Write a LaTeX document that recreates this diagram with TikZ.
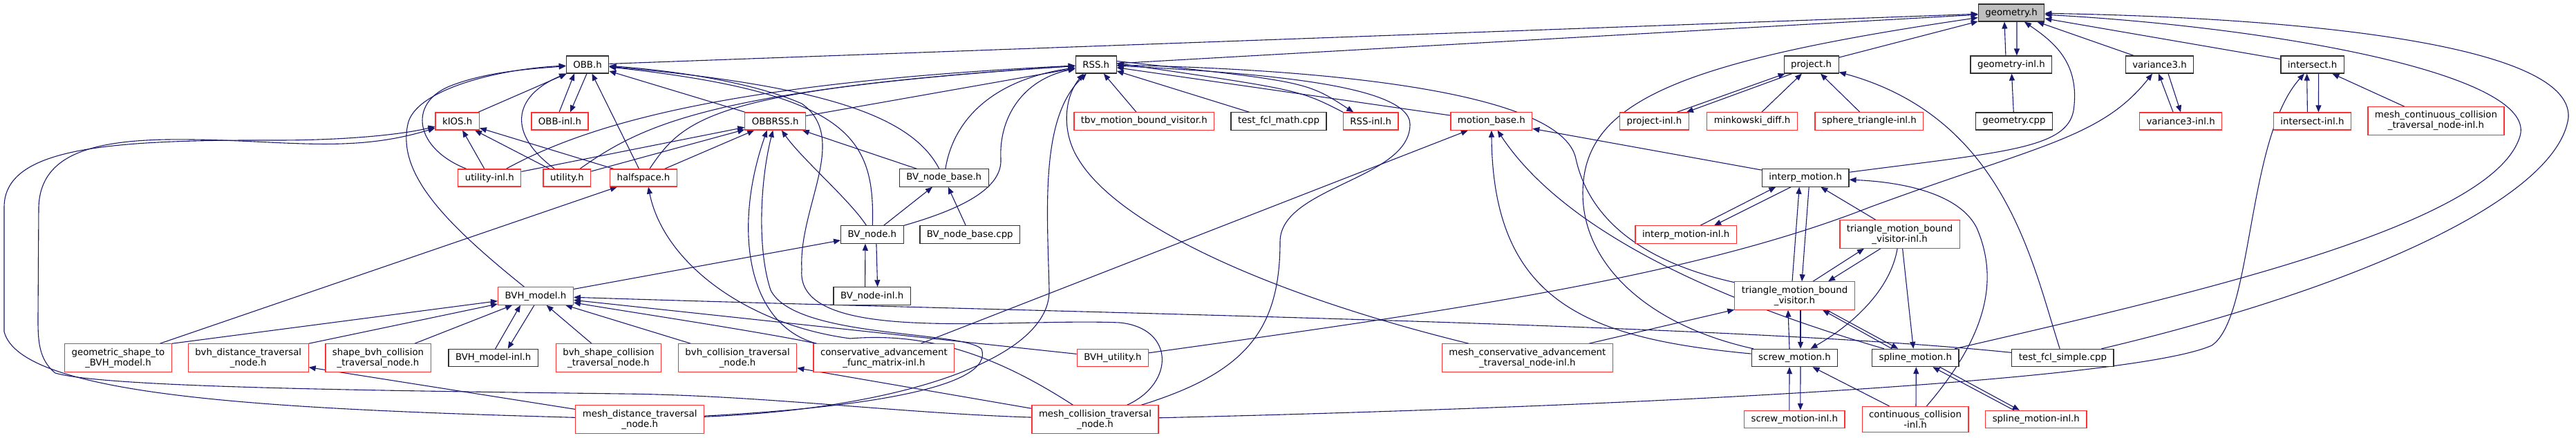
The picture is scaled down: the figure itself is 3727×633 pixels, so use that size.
\documentclass[tikz,border=0pt]{standalone}
\usepackage{fontspec}
\newfontfamily\dvs{DejaVu Sans}
\usetikzlibrary{arrows.meta}
\definecolor{edgec}{HTML}{191970}
\definecolor{redc}{HTML}{FF3030}
\definecolor{blkc}{HTML}{303030}
\definecolor{greyc}{HTML}{BFBFBF}
\pgfdeclarelayer{bg}
\pgfsetlayers{bg,main}
\begin{document}
\begin{tikzpicture}[x=1pt,y=-1pt,
  nb/.style={draw=blkc, line width=1.2pt, fill=white, inner xsep=10pt, inner ysep=6pt, minimum height=25pt, align=center, font=\dvs\fontsize{13.33}{15}\selectfont},
  nr/.style={nb, draw=redc},
  ng/.style={nb, fill=greyc},
  edg/.style={draw=edgec, line width=1.1pt, -{Triangle[length=10pt,width=8pt]}}]
\useasboundingbox (0,0) rectangle (3727,633);

% ---------------- nodes ----------------
\node[ng] (geo) at (2910,18.5) {geometry.h};
\node[nb] (OBB) at (850,93.5) {OBB.h};
\node[nb] (RSS) at (1585.7,93.5) {RSS.h};
\node[nb] (project) at (2620.6,93.5) {project.h};
\node[nb] (geoinl) at (2909.9,93.5) {geometry-inl.h};
\node[nb] (var3) at (3124.5,93.5) {variance3.h};
\node[nb] (inter) at (3345.6,93.5) {intersect.h};
\node[nr] (kIOS) at (661.7,175.5) {kIOS.h};
\node[nr] (OBBinl) at (810,175.5) {OBB-inl.h};
\node[nr] (OBBRSS) at (1121.7,175.5) {OBBRSS.h};
\node[nr] (tbv) at (1655.3,175.5) {tbv\_motion\_bound\_visitor.h};
\node[nb] (tfm) at (1850,175.5) {test\_fcl\_math.cpp};
\node[nr] (RSSinl) at (1983.2,175.5) {RSS-inl.h};
\node[nr] (mbase) at (2157.8,175.5) {motion\_base.h};
\node[nr] (projinl) at (2393.5,175.5) {project-inl.h};
\node[nr] (mink) at (2535,175.5) {minkowski\_diff.h};
\node[nr] (sphtri) at (2704.4,175.5) {sphere\_triangle-inl.h};
\node[nb] (geocpp) at (2913.9,175.5) {geometry.cpp};
\node[nr] (var3inl) at (3155.1,175.5) {variance3-inl.h};
\node[nr] (interinl) at (3345.4,175.5) {intersect-inl.h};
\node[nr] (mcctn) at (3524.4,175) {mesh\_continuous\_collision\\\_traversal\_node-inl.h};
\node[nr] (utilinl) at (708.3,257.5) {utility-inl.h};
\node[nr] (util) at (820.4,257.5) {utility.h};
\node[nr] (half) at (931,257.5) {halfspace.h};
\node[nb] (bvnb) at (1365.7,257.5) {BV\_node\_base.h};
\node[nb] (interp) at (2612.2,257.5) {interp\_motion.h};
\node[nb] (bvnode) at (1261.9,339.5) {BV\_node.h};
\node[nb] (bvnbcpp) at (1403.3,339.5) {BV\_node\_base.cpp};
\node[nr] (interpinl) at (2439.1,339.5) {interp\_motion-inl.h};
\node[nr] (tmbvinl) at (2748.6,339) {triangle\_motion\_bound\\\_visitor-inl.h};
\node[nr] (bvh) at (775,428.5) {BVH\_model.h};
\node[nb] (bvninl) at (1261.6,428.5) {BV\_node-inl.h};
\node[nr] (tmbv) at (2596.5,428) {triangle\_motion\_bound\\\_visitor.h};
\node[nr] (gstb) at (171,518) {geometric\_shape\_to\\\_BVH\_model.h};
\node[nr] (bdtn) at (359.2,518) {bvh\_distance\_traversal\\\_node.h};
\node[nr] (sbctn) at (547,518) {shape\_bvh\_collision\\\_traversal\_node.h};
\node[nb] (bvhinl) at (713.7,518) {BVH\_model-inl.h};
\node[nr] (bsctn) at (880.4,518) {bvh\_shape\_collision\\\_traversal\_node.h};
\node[nr] (bctn) at (1067.1,518) {bvh\_collision\_traversal\\\_node.h};
\node[nr] (cafm) at (1278.9,518) {conservative\_advancement\\\_func\_matrix-inl.h};
\node[nr] (bvhutil) at (1609.9,518) {BVH\_utility.h};
\node[nr] (mcatn) at (2209.8,518) {mesh\_conservative\_advancement\\\_traversal\_node-inl.h};
\node[nb] (screw) at (2596.5,518) {screw\_motion.h};
\node[nb] (spline) at (2771.3,518) {spline\_motion.h};
\node[nb] (tfs) at (2984.4,518) {test\_fcl\_simple.cpp};
\node[nr] (mdtn) at (925.7,607) {mesh\_distance\_traversal\\\_node.h};
\node[nr] (mctn) at (1584.5,607) {mesh\_collision\_traversal\\\_node.h};
\node[nr] (screwinl) at (2596.3,607) {screw\_motion-inl.h};
\node[nr] (cci) at (2771,607) {continuous\_collision\\-inl.h};
\node[nr] (splineinl) at (2945.8,607) {spline\_motion-inl.h};

% ---------------- edges ----------------
\begin{pgfonlayer}{bg}
% geometry.h
\draw[edg] (OBB) -- (geo);
\draw[edg] (RSS) -- (geo);
\draw[edg] (project) -- (geo);
\draw[edg] ([xshift=-8pt]geoinl.north) -- ([xshift=-10pt]geo.south);
\draw[edg] ([xshift=8pt]geo.south) -- ([xshift=8pt]geoinl.north);
\draw[edg] (interp) .. controls (2900,220) and (2990,215) .. (3000,160) .. controls (3010,90) and (2970,60) .. (geo);
\draw[edg] (screw) .. controls (2380,470) and (2290,380) .. (2290,280) .. controls (2290,150) and (2420,90) .. (geo);
\draw[edg] (spline) .. controls (3150,430) and (3600,330) .. (3645,200) .. controls (3680,110) and (3300,40) .. (geo);
\draw[edg] (tfs) .. controls (3400,420) and (3700,290) .. (3716,170) .. controls (3722,60) and (3300,25) .. (geo);
\draw[edg] (var3) -- (geo);
\draw[edg] (inter) -- (geo);
\draw[edg] (geocpp) -- (geoinl);
% project.h
\draw[edg] ([xshift=-18pt]projinl.north east) -- ([xshift=-38pt]project.south);
\draw[edg] ([xshift=-28pt]project.south) -- ([xshift=-4pt]projinl.north east);
\draw[edg] (mink) -- (project);
\draw[edg] (sphtri) -- (project);
\draw[edg] (tfs) .. controls (2940,380) and (2900,170) .. (project);
% variance3.h
\draw[edg] ([xshift=-11pt]var3inl.north) -- ([xshift=-1.5pt]var3.south);
\draw[edg] ([xshift=12.5pt]var3.south) -- (var3inl.north);
\draw[edg] (bvhutil) .. controls (2100,450) and (2450,400) .. (2705,300) .. controls (2950,210) and (3040,200) .. (var3);
% intersect.h
\draw[edg] ([xshift=-7pt]interinl.north) -- ([xshift=-8pt]inter.south);
\draw[edg] ([xshift=9pt]inter.south) -- ([xshift=9pt]interinl.north);
\draw[edg] (mcctn) -- (inter);
\draw[edg] (mctn) .. controls (2500,585) and (3100,545) .. (3200,500) .. controls (3260,460) and (3250,200) .. (inter);
% OBB.h
\draw[edg] ([xshift=-1pt]OBBinl.north) -- ([xshift=-19pt]OBB.south);
\draw[edg] ([xshift=-1pt]OBB.south) -- ([xshift=15pt]OBBinl.north);
\draw[edg] (kIOS) -- (OBB);
\draw[edg] (utilinl) .. controls (600,215) and (590,150) .. (650,125) .. controls (700,105) and (760,100) .. (OBB);
\draw[edg] (util) .. controls (735,195) and (740,140) .. (OBB);
\draw[edg] (half) -- (OBB);
\draw[edg] (OBBRSS) -- (OBB);
\draw[edg] (bvh) .. controls (640,320) and (575,250) .. (590,180) .. controls (600,130) and (720,100) .. (OBB);
\draw[edg] (bvnb) .. controls (1320,170) and (1200,125) .. (OBB);
\draw[edg] (bvnode) .. controls (1266,200) and (1230,135) .. (OBB);
\draw[edg] (mctn) .. controls (1700,555) and (1700,475) .. (1620,467) .. controls (1450,460) and (1150,500) .. (1160,390) .. controls (1155,300) and (1230,200) .. (1160,150) .. controls (1080,115) and (950,100) .. (OBB);
% kIOS.h
\draw[edg] (utilinl) -- (kIOS);
\draw[edg] (util) -- (kIOS);
\draw[edg] (half) -- (kIOS);
\draw[edg] (mdtn) .. controls (400,592) and (30,575) .. (6,480) -- (6,300) .. controls (6,215) and (150,202) .. (400,203) .. controls (500,203) and (580,195) .. (kIOS);
\draw[edg] (mctn) .. controls (1300,598) and (1100,572) .. (900,570) .. controls (500,565) and (150,560) .. (80,540) .. controls (55,520) and (55,490) .. (55,460) -- (56,300) .. controls (58,230) and (120,204) .. (241,202) .. controls (400,200) and (500,225) .. (kIOS);
% OBBRSS.h
\draw[edg] (utilinl) -- (OBBRSS);
\draw[edg] (util) -- (OBBRSS);
\draw[edg] (half) -- (OBBRSS);
\draw[edg] (bvnode) .. controls (1230,290) and (1160,230) .. (OBBRSS);
\draw[edg] (bvnb) -- (OBBRSS);
\draw[edg] ([xshift=5pt]cafm.north west) .. controls (1080,470) and (1060,330) .. ([xshift=-12pt]OBBRSS.south);
\draw[edg] (mdtn) .. controls (1250,590) and (1440,560) .. (1420,505) .. controls (1390,478) and (1150,490) .. (1115,420) .. controls (1095,360) and (1100,260) .. (OBBRSS);
% RSS.h
\draw[edg] (OBBRSS) -- (RSS);
\draw[edg] (utilinl) .. controls (850,180) and (1050,120) .. (RSS);
\draw[edg] (util) .. controls (930,180) and (1030,130) .. (RSS);
\draw[edg] (half) .. controls (990,170) and (1030,130) .. (RSS);
\draw[edg] (bvnb) .. controls (1380,170) and (1440,115) .. (RSS);
\draw[edg] (bvnode) .. controls (1400,300) and (1450,270) .. (1448,230) .. controls (1445,170) and (1480,115) .. (RSS);
\draw[edg] (mdtn) .. controls (1300,592) and (1520,520) .. (1518,420) .. controls (1515,300) and (1505,170) .. (RSS);
\draw[edg] (mcatn) .. controls (1850,430) and (1620,330) .. (1560,230) .. controls (1535,190) and (1540,140) .. ([xshift=-18pt]RSS.south);
\draw[edg] ([xshift=-40pt]RSSinl.north) .. controls (1880,130) .. ([yshift=2pt]RSS.east);
\draw[edg] ([yshift=5pt]RSS.east) .. controls (1890,118) .. ([xshift=-25pt]RSSinl.north);
\draw[edg] (tfm) -- (RSS);
\draw[edg] (tbv) -- (RSS);
\draw[edg] (mbase) -- (RSS);
\draw[edg] (mctn) .. controls (1800,540) and (1852,480) .. (1852,350) .. controls (1852,270) and (2040,260) .. (2040,180) .. controls (2040,120) and (1800,105) .. (RSS);
\draw[edg] (tmbv) .. controls (2380,380) and (2300,320) .. (2280,230) .. controls (2260,130) and (1900,100) .. (RSS);
% motion_base.h
\draw[edg] (cafm) -- (mbase);
\draw[edg] (screw) .. controls (2300,490) and (2160,440) .. (mbase);
\draw[edg] (spline) .. controls (2400,410) and (2240,300) .. (mbase);
\draw[edg] (interp) -- (mbase);
% interp_motion.h
\draw[edg] ([xshift=21pt]interpinl.north) -- ([xshift=-43pt]interp.south);
\draw[edg] ([xshift=-21pt]interp.south) -- ([xshift=41pt]interpinl.north);
\draw[edg] ([xshift=-3.5pt]tmbv.north) -- ([xshift=-9pt]interp.south);
\draw[edg] ([xshift=5pt]interp.south) -- ([xshift=10.5pt]tmbv.north);
\draw[edg] (tmbvinl) -- (interp);
\draw[edg] (cci) .. controls (2880,480) and (2890,400) .. (2860,330) .. controls (2830,270) and (2720,262) .. (interp);
% triangle_motion_bound_visitor
\draw[edg] ([xshift=26.5pt]tmbv.north) -- ([xshift=-51.6pt]tmbvinl.south);
\draw[edg] ([xshift=-27.6pt]tmbvinl.south) -- ([xshift=48.5pt]tmbv.north);
\draw[edg] (tmbvinl) .. controls (2735,420) and (2680,470) .. (screw);
\draw[edg] ([xshift=4pt]tmbvinl.south) -- ([xshift=-3pt]spline.north);
\draw[edg] ([xshift=-7.5pt]screw.north) -- ([xshift=-9.5pt]tmbv.south);
\draw[edg] ([xshift=8.5pt]tmbv.south) -- ([xshift=8.5pt]screw.north);
\draw[edg] ([xshift=-34pt]spline.north) -- ([xshift=40.5pt]tmbv.south);
\draw[edg] ([xshift=46.5pt]tmbv.south) -- ([xshift=-25pt]spline.north);
\draw[edg] (mcatn) -- (tmbv);
% screw / spline
\draw[edg] ([xshift=-7.5pt]screwinl.north) -- ([xshift=-7.5pt]screw.south);
\draw[edg] ([xshift=8.5pt]screw.south) -- ([xshift=8.5pt]screwinl.north);
\draw[edg] ([xshift=-32pt]splineinl.north) -- ([xshift=25pt]spline.south);
\draw[edg] ([xshift=35pt]spline.south) -- ([xshift=-24pt]splineinl.north);
\draw[edg] (cci) -- (screw);
\draw[edg] ([xshift=1pt]cci.north) -- ([xshift=1pt]spline.south);
% BVH_model.h
\draw[edg] (tfs) .. controls (2500,468) and (1500,452) .. (bvh);
\draw[edg] (bvhutil) -- (bvh);
\draw[edg] (cafm) .. controls (1100,480) and (900,450) .. (bvh);
\draw[edg] (bctn) -- (bvh);
\draw[edg] (bsctn) -- (bvh);
\draw[edg] ([xshift=3pt]bvhinl.north) -- ([xshift=-22pt]bvh.south);
\draw[edg] ([xshift=-2pt]bvh.south) -- ([xshift=21pt]bvhinl.north);
\draw[edg] (sbctn) -- (bvh);
\draw[edg] (bdtn.north east) -- (bvh);
\draw[edg] (gstb.north east) -- (bvh);
% BV_node
\draw[edg] (bvh) -- (bvnode);
\draw[edg] ([xshift=-10pt]bvninl.north) -- ([xshift=-10pt]bvnode.south);
\draw[edg] ([xshift=6pt]bvnode.south) -- ([xshift=8pt]bvninl.north);
\draw[edg] (bvnode) -- (bvnb);
\draw[edg] (bvnbcpp) -- (bvnb);
% halfspace / traversal nodes
\draw[edg] (gstb) -- (half);
\draw[edg] (mctn) .. controls (1450,520) and (1350,480) .. (1230,490) .. controls (1080,470) and (960,380) .. ([xshift=7pt]half.south);
\draw[edg] (mdtn) -- (bdtn);
\draw[edg] (mctn) -- (bctn);
\end{pgfonlayer}
\end{tikzpicture}
\end{document}
